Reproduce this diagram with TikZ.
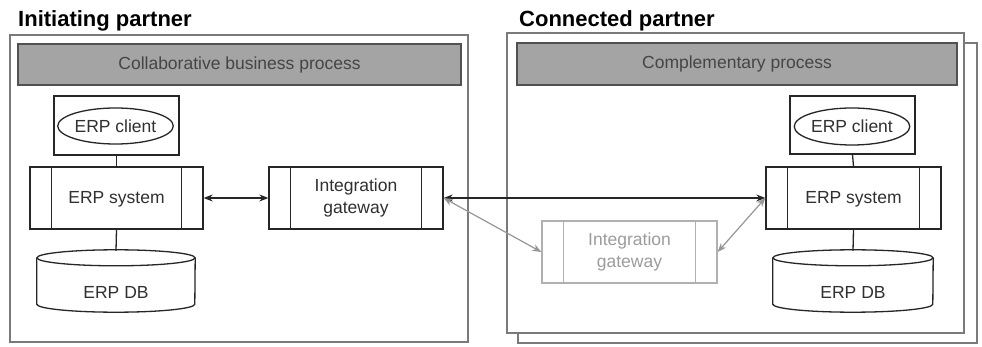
\documentclass[tikz,border=0pt]{standalone}
\usepackage{fontspec}
\setmainfont{Liberation Sans}
\usetikzlibrary{arrows.meta,shapes.geometric}
\definecolor{ink}{HTML}{303030}
\definecolor{edge}{HTML}{262626}
\definecolor{frame}{HTML}{7A7A7A}
\definecolor{barfill}{HTML}{A4A4A4}
\definecolor{ghost}{HTML}{B0B0B0}
\definecolor{ghosttext}{HTML}{9C9C9C}
\tikzset{
  txt/.style={font=\fontsize{17.5}{21.5}\selectfont, text=ink, align=center, inner sep=0pt},
  heading/.style={font=\fontsize{22}{26}\selectfont\bfseries, text=black, anchor=base west, inner sep=0pt},
  partner/.style={draw=frame, line width=1.5pt, fill=white, inner sep=0pt},
  procbar/.style={txt, draw=edge!80, line width=1.3pt, fill=barfill, text=ink!90},
  plainbox/.style={draw=edge, line width=1.3pt, fill=white, inner sep=0pt},
  clientell/.style={ellipse, draw=edge, line width=1.3pt, txt, inner sep=0pt},
  sysbox/.style={txt, draw=edge, line width=1.3pt, fill=white, minimum width=174pt, minimum height=62pt},
  oneline/.style={text height=14pt},
  ghostbox/.style={sysbox, draw=ghost, text=ghosttext},
  dbbox/.style={inner sep=0pt, minimum width=159pt, minimum height=62pt},
  link/.style={draw=edge, line width=1.3pt},
  biarrow/.style={link, {Stealth[length=9pt,width=7pt]}-{Stealth[length=9pt,width=7pt]}},
  ghostarrow/.style={draw=ghost!85!black, line width=1.2pt, {Stealth[length=9pt,width=7pt]}-{Stealth[length=9pt,width=7pt]}},
}
% side bars of a system/gateway block
\newcommand{\sidebars}[2]{%
  \draw[#2] ([xshift=22pt]#1.north west) -- ([xshift=22pt]#1.south west);
  \draw[#2] ([xshift=-22pt]#1.north east) -- ([xshift=-22pt]#1.south east);}
% database cylinder drawn round a named node
\newcommand{\dbshape}[2]{%
  \draw[link, fill=white] ([yshift=-8pt]#1.north west) -- ([yshift=8pt]#1.south west)
    arc[start angle=180, end angle=360, x radius=#2, y radius=8pt]
    -- ([yshift=-8pt]#1.north east);
  \draw[link] ([yshift=-8pt]#1.north) ellipse[x radius=#2, y radius=8pt];}
\begin{document}
\begin{tikzpicture}[x=1pt, y=-1pt]
\useasboundingbox (0,0) rectangle (982,347);

% headings
\node[heading] (h1) at (18,27) {Initiating partner};
\node[heading] (h2) at (519,27) {Connected partner};

% partner frames
\node[partner, minimum width=458pt, minimum height=307pt] (frameL) at (239,188.5) {};
\node[partner, minimum width=459pt, minimum height=300pt] (frameRback) at (747.5,193) {};
\node[partner, minimum width=457pt, minimum height=300pt] (frameR) at (735.5,183) {};

% process bars
\node[procbar, minimum width=443pt, minimum height=41pt] (barL) at (239.5,64.5) {Collaborative business process};
\node[procbar, minimum width=440pt, minimum height=42pt] (barR) at (737,64) {Complementary process};

% initiating partner
\node[plainbox, minimum width=125pt, minimum height=59pt] (clientL) at (116.5,125.5) {};
\node[clientell, minimum width=109pt, minimum height=36pt] (ellL) at (115.5,126) {ERP client};
\node[sysbox, oneline, minimum width=173pt] (sysL) at (116.5,198) {ERP system};
\sidebars{sysL}{link}
\node[dbbox, minimum width=158pt] (dbL) at (116,281) {};
\dbshape{dbL}{79pt}
\node[txt] (dbLt) at ([yshift=-11pt]dbL.center) {ERP DB};
\node[sysbox] (gwL) at (356,198) {Integration\\gateway};
\sidebars{gwL}{link}

% connected partner
\node[plainbox, minimum width=125pt, minimum height=58pt] (clientR) at (852.5,125) {};
\node[clientell, minimum width=110pt, minimum height=37pt] (ellR) at (852,126.5) {ERP client};
\node[sysbox, oneline, minimum width=175pt] (sysR) at (853.5,198) {ERP system};
\sidebars{sysR}{link}
\node[dbbox, minimum width=160pt] (dbR) at (853,281) {};
\dbshape{dbR}{80pt}
\node[txt] (dbRt) at ([yshift=-11pt]dbR.center) {ERP DB};
\node[ghostbox, minimum width=175pt] (gwG) at (629.5,252) {Integration\\gateway};
\sidebars{gwG}{draw=ghost, line width=1.2pt}

% connectors
\draw[link] (clientL.south) -- (sysL.north);
\draw[link] (sysL.south) -- ([yshift=-1pt]dbL.north);
\draw[link] (clientR.south) -- (sysR.north);
\draw[link] (sysR.south) -- ([yshift=-1pt]dbR.north);
\draw[biarrow] (sysL.east) -- (gwL.west);
\draw[biarrow] (gwL.east) -- (sysR.west);
\draw[ghostarrow] (gwL.east) -- (gwG.west);
\draw[ghostarrow] (sysR.west) -- (gwG.east);
\end{tikzpicture}
\end{document}
